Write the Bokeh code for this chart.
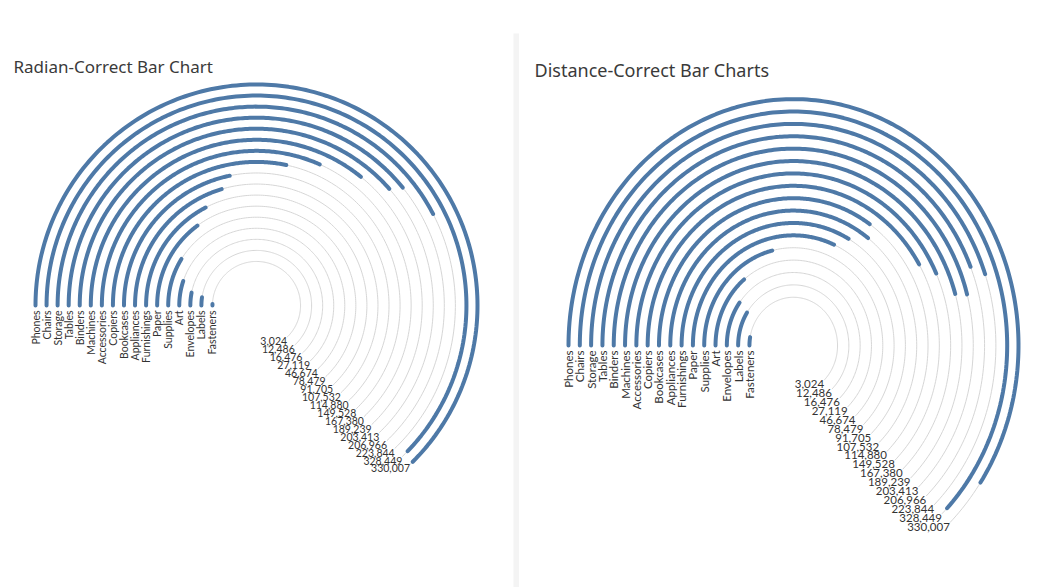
import numpy as np
from bokeh.plotting import figure
from bokeh.models import Range1d, Label, BoxAnnotation, ColumnDataSource
from bokeh.layouts import row
from bokeh.embed import file_html
from bokeh.resources import INLINE
from bokeh.core.properties import value

# ---------------- data ----------------
categories = ["Phones", "Chairs", "Storage", "Tables", "Binders", "Machines",
              "Accessories", "Copiers", "Bookcases", "Appliances", "Furnishings",
              "Paper", "Supplies", "Art", "Envelopes", "Labels", "Fasteners"]
sales = [330007, 328449, 223844, 206966, 203413, 189239, 167380, 149528,
         114880, 107532, 91705, 78479, 46674, 27119, 16476, 12486, 3024]
sales_labels = [f"{v:,}" for v in sales]

# ---------------- style / layout ----------------
BLUE = "#4e79a7"
RING = "#d6d6d6"
TXT = "#333333"
FONT = "Lato"
TITLE_FONT = "Noto Sans"
H = 587
FULL_SWEEP = 226.0      # background rings (degrees)
MAX_SWEEP_L = 225.0     # radian-correct: max value sweep
MAX_SWEEP_R = 213.8     # distance-correct: outer ring sweep for max value


def arc_xy(r, sweep_deg, n=200):
    a = np.radians(180.0 - np.linspace(0.0, sweep_deg, n))
    return list(r * np.cos(a)), list(r * np.sin(a))


def build(width, cx, cy, yscale, r_outer, r_step, sweeps, title, title_xy,
          title_size, cat_size, val_size, cat_gap):
    p = figure(width=width, height=H, output_backend="svg", toolbar_location=None,
               x_range=Range1d(-cx, width - cx),
               y_range=Range1d(-(H - cy) / yscale, cy / yscale),
               min_border=0, outline_line_color=None, background_fill_color="white",
               border_fill_color="white")
    p.axis.visible = False
    p.grid.visible = False

    n = len(categories)
    radii = [r_outer - r_step * i for i in range(n)]

    # background rings
    rx, ry = [], []
    for r in radii:
        x, y = arc_xy(r, FULL_SWEEP)
        rx.append(x); ry.append(y)
    p.multi_line(rx, ry, line_color=RING, line_width=1)

    # bars
    bx, by = [], []
    for r, s in zip(radii, sweeps):
        x, y = arc_xy(r, s)
        bx.append(x); by.append(y)
    p.multi_line(bx, by, line_color=BLUE, line_width=4, line_cap="round")

    # category labels (rotated under bar start)
    src = ColumnDataSource(dict(x=[-r for r in radii],
                                y=[-cat_gap / yscale] * n,
                                t=categories))
    p.text(x="x", y="y", text="t", source=src, angle=np.pi / 2,
           text_align="right", text_baseline="middle",
           text_font=value(FONT), text_font_size=value(cat_size), text_color=TXT)

    # value labels at end of background rings
    ea = np.radians(180.0 - FULL_SWEEP)
    vsrc = ColumnDataSource(dict(x=[r * np.cos(ea) for r in radii],
                                 y=[r * np.sin(ea) for r in radii],
                                 t=sales_labels))
    p.text(x="x", y="y", text="t", source=vsrc,
           text_align="right", text_baseline="top",
           text_font=value(FONT), text_font_size=value(val_size), text_color=TXT)

    tx, ty = title_xy
    p.add_layout(Label(x=tx - cx, y=(cy - ty) / yscale, text=title,
                       text_font=TITLE_FONT, text_font_size=title_size,
                       text_color="#3a3a3a", text_baseline="alphabetic"))
    return p


# Left: radian-correct (angle proportional to value)
sweeps_l = [MAX_SWEEP_L * v / max(sales) for v in sales]
R_OUT_L, STEP_L = 221.0, 11.06
left = build(519, 256, 305, 1.0, R_OUT_L, STEP_L, sweeps_l,
             "Radian-Correct Bar Chart", (13, 66), "17px", "10.5px", "10.5px", 5)

sep = BoxAnnotation(left=513 - 256, right=519 - 256, top=305 - 33, bottom=-(H - 305),
                    fill_color="#f4f4f4", fill_alpha=1.0, line_color=None)
left.add_layout(sep)

# Right: distance-correct (arc length proportional to value)
R_OUT_R, STEP_R = 225.0, 11.31
radii_r = [R_OUT_R - STEP_R * i for i in range(len(sales))]
sweeps_r = [MAX_SWEEP_R * (v / max(sales)) * (R_OUT_R / r) for v, r in zip(sales, radii_r)]
right = build(525, 793 - 519, 345, 1.095, R_OUT_R, STEP_R, sweeps_r,
              "Distance-Correct Bar Charts", (534 - 519, 69), "18px", "11.5px", "11.5px", 5)

layout = row(left, right, spacing=0)
open("out.html", "w").write(file_html(layout, INLINE))
